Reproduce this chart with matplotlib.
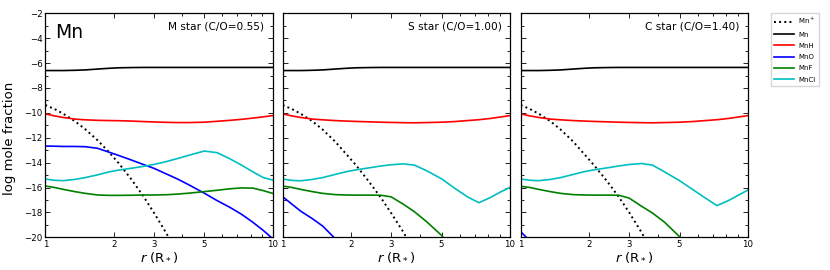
import matplotlib
matplotlib.use('Agg')
import matplotlib.pyplot as plt
from matplotlib.ticker import FixedLocator, NullFormatter, MultipleLocator

# radial grid (R*) shared by all read-off curves
R = [1.0, 1.1, 1.2, 1.35, 1.5, 1.7, 1.9, 2.1, 2.4, 2.7, 3.0, 3.4, 3.8, 4.3,
     5.0, 5.7, 6.5, 7.3, 8.2, 9.1, 10.0]

PANELS = ["M star (C/O=0.55)", "S star (C/O=1.00)", "C star (C/O=1.40)"]
SPECIES = ["Mn$^+$", "Mn", "MnH", "MnO", "MnF", "MnCl"]

MN = [-6.6, -6.6, -6.6, -6.58, -6.55, -6.48, -6.42, -6.38, -6.36, -6.35, -6.35,
      -6.35, -6.35, -6.35, -6.35, -6.35, -6.35, -6.35, -6.35, -6.35, -6.35]

# M star
M_MNP = [-9.37, -9.70, -10.07, -10.67, -11.32, -12.21, -13.13, -14.03, -15.38,
         -16.70, -18.0, -19.64, -21.25]
M_MNH = [-10.08, -10.25, -10.37, -10.5, -10.56, -10.6, -10.62, -10.63, -10.66,
         -10.7, -10.73, -10.76, -10.78, -10.78, -10.75, -10.68, -10.6, -10.52,
         -10.42, -10.32, -10.22]
M_MNO = [-12.67, -12.68, -12.7, -12.7, -12.72, -12.85, -13.15, -13.42, -13.8,
         -14.15, -14.45, -14.9, -15.3, -15.8, -16.45, -17.05, -17.6, -18.15,
         -18.8, -19.45, -20.1]
M_MNF = [-15.88, -16.0, -16.15, -16.33, -16.47, -16.6, -16.63, -16.63, -16.62,
         -16.6, -16.6, -16.58, -16.53, -16.45, -16.33, -16.22, -16.1, -16.03,
         -16.05, -16.25, -16.47]
M_MNCL = [-15.32, -15.42, -15.45, -15.35, -15.2, -14.98, -14.75, -14.6, -14.45,
          -14.3, -14.15, -13.92, -13.68, -13.4, -13.07, -13.2, -13.7, -14.2,
          -14.75, -15.2, -15.4]

# S star
S_MNP = [-9.37, -9.70, -10.07, -10.67, -11.35, -12.3, -13.3, -14.2, -15.55,
         -16.8, -18.05, -19.6, -21.2]
S_MNH = [-10.08, -10.25, -10.37, -10.5, -10.56, -10.62, -10.66, -10.69, -10.72,
         -10.75, -10.77, -10.79, -10.8, -10.78, -10.75, -10.7, -10.62, -10.55,
         -10.45, -10.33, -10.22]
S_MNO = [-16.74, -17.35, -17.9, -18.5, -19.1, -20.1, -21.0]
S_MNF = [-15.88, -16.0, -16.15, -16.33, -16.47, -16.57, -16.6, -16.61, -16.61,
         -16.62, -16.75, -17.35, -17.95, -18.75, -19.85, -21.1]
S_MNCL = [-15.32, -15.43, -15.46, -15.35, -15.2, -14.95, -14.73, -14.58, -14.42,
          -14.27, -14.17, -14.1, -14.2, -14.65, -15.3, -16.05, -16.75, -17.22,
          -16.8, -16.35, -15.99]

# C star
C_MNP = [-9.37, -9.70, -10.07, -10.67, -11.35, -12.3, -13.3, -14.2, -15.5,
         -16.75, -18.0, -19.6, -21.2]
C_MNH = S_MNH
C_MNO = [-19.55, -20.3]
C_MNF = [-15.9, -16.0, -16.15, -16.33, -16.47, -16.57, -16.6, -16.61, -16.61,
         -16.62, -16.85, -17.5, -18.05, -18.8, -19.95, -21.1]
C_MNCL = [-15.32, -15.42, -15.45, -15.35, -15.2, -14.95, -14.73, -14.58, -14.42,
          -14.27, -14.15, -14.07, -14.2, -14.75, -15.45, -16.15, -16.85, -17.45,
          -17.05, -16.6, -16.2]

DATA = [
    [M_MNP, MN, M_MNH, M_MNO, M_MNF, M_MNCL],
    [S_MNP, MN, S_MNH, S_MNO, S_MNF, S_MNCL],
    [C_MNP, MN, C_MNH, C_MNO, C_MNF, C_MNCL],
]
COLORS = ['k', 'k', 'r', 'b', 'g', 'c']
STYLES = [':', '-', '-', '-', '-', '-']

XTICKS = [1, 2, 3, 5, 10]
XMINOR = [4, 6, 7, 8, 9]

fig = plt.figure(figsize=(8.3, 2.7), dpi=100)
lefts = [45.3 / 830, 282.7 / 830, 520.7 / 830]
axes = []
for i, left in enumerate(lefts):
    ax = fig.add_axes([left, 1 - 237.3 / 270, 227.3 / 830, 224 / 270])
    axes.append(ax)
    for name, vals, c, ls in zip(SPECIES, DATA[i], COLORS, STYLES):
        lw = 1.4 if ls == ':' else 1.2
        ax.plot(R[:len(vals)], vals, color=c, ls=ls, lw=lw, label=name)
    ax.set_xscale('log')
    ax.set_xlim(1, 10)
    ax.set_ylim(-20, -2)
    ax.xaxis.set_major_locator(FixedLocator(XTICKS))
    ax.xaxis.set_minor_locator(FixedLocator(XMINOR))
    ax.xaxis.set_minor_formatter(NullFormatter())
    ax.set_xticklabels([str(t) for t in XTICKS])
    ax.yaxis.set_major_locator(MultipleLocator(2))
    ax.yaxis.set_minor_locator(MultipleLocator(1))
    ax.tick_params(which='both', direction='in', top=True, right=True,
                   labelsize=6.2, width=0.6, pad=2)
    ax.tick_params(which='major', length=3.5)
    ax.tick_params(which='minor', length=2)
    for sp in ax.spines.values():
        sp.set_linewidth(0.9)
    if i > 0:
        ax.set_yticklabels([])
    ax.set_xlabel(r'$r$ (R$_*$)', fontsize=9.5, labelpad=1)
    ax.text(0.963, 0.94, PANELS[i], transform=ax.transAxes, ha='right',
            va='center', fontsize=7.6)

axes[0].set_ylabel('log mole fraction', fontsize=9.5)
axes[0].yaxis.set_label_coords(-0.13, 0.44)
axes[0].text(0.043, 0.89, 'Mn', transform=axes[0].transAxes, ha='left',
             va='baseline', fontsize=13.5)

handles, labels = axes[0].get_legend_handles_labels()
fig.legend(handles, labels, loc='upper left', bbox_to_anchor=(771 / 830, 1 - 12.7 / 270),
           fontsize=5, handlelength=2.8, labelspacing=0.75, fancybox=False,
           edgecolor='0.8', borderpad=0.5, handletextpad=0.6, borderaxespad=0)

plt.savefig('out.png', dpi=100)
plt.close()
